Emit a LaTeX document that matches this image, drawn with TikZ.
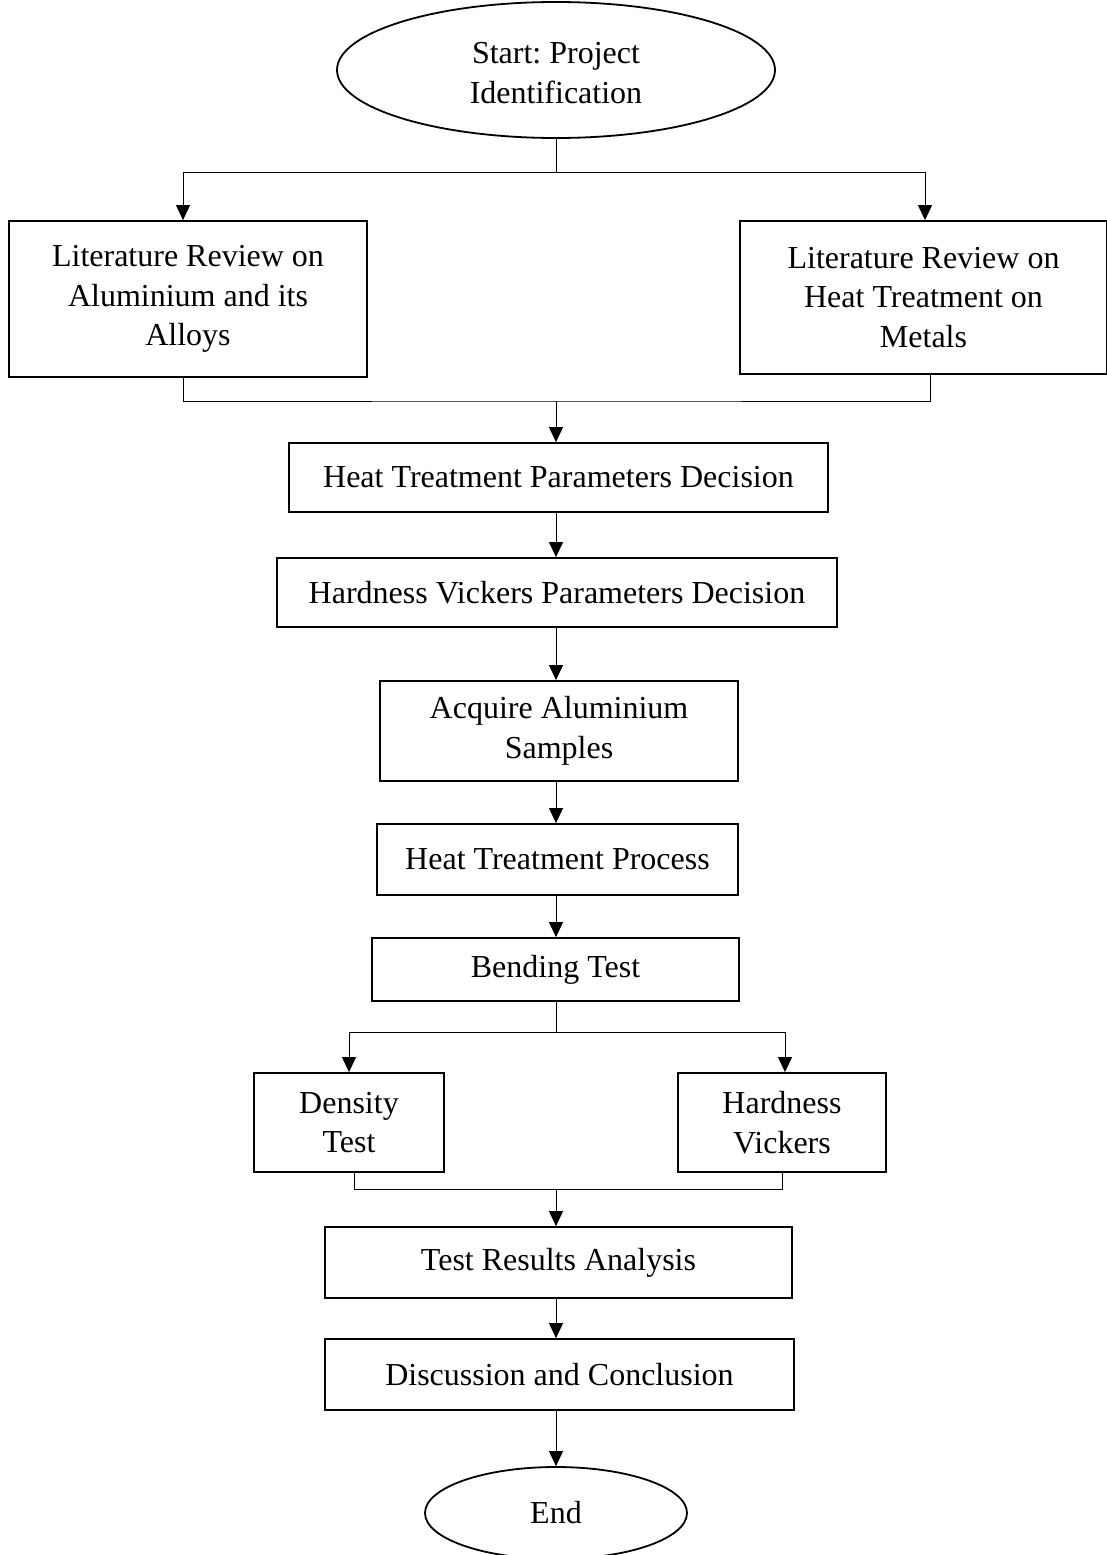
\documentclass[tikz,border=0pt]{standalone}
\usepackage{fontspec}
\setmainfont{Liberation Serif}
\usetikzlibrary{shapes.geometric,arrows.meta}
\frenchspacing
\begin{document}
\begin{tikzpicture}[x=1pt,y=-1pt,
  txt/.style={font=\fontsize{32}{39.5}\selectfont,align=center,inner sep=0pt},
  box/.style={txt,draw,line width=1.8pt,rectangle},
  oval/.style={txt,draw,line width=1.8pt,ellipse},
  conn/.style={line width=1pt},
  arr/.style={conn,-{Triangle[width=14pt,length=15pt]}}]
\useasboundingbox (0,0) rectangle (1106,1555);
\coordinate (col) at (556,0);

\node[oval,minimum width=438pt,minimum height=136pt] (start) at (556,70) {\strut Start: Project\\Identification};
\node[box,minimum width=358pt,minimum height=156pt] (lit1) at (188,299) {Literature Review on\\Aluminium and its\\Alloys};
\node[box,minimum width=367pt,minimum height=153pt] (lit2) at (923.5,297.5) {Literature Review on\\Heat Treatment on\\Metals};
\node[box,minimum width=539pt,minimum height=69pt] (htpd) at (558.5,477.5) {Heat Treatment Parameters Decision};
\node[box,minimum width=560pt,minimum height=69pt] (hvpd) at (557,592.5) {Hardness Vickers Parameters Decision};
\node[box,minimum width=358pt,minimum height=100pt] (acq) at (559,731) {Acquire Aluminium\\Samples};
\node[box,minimum width=361pt,minimum height=71pt] (htp) at (557.5,859.5) {Heat Treatment Process};
\node[box,minimum width=367pt,minimum height=63pt] (bend) at (555.5,969.5) {Bending Test};
\node[box,minimum width=190pt,minimum height=99pt] (dens) at (349,1122.5) {Density\\Test};
\node[box,minimum width=208pt,minimum height=99pt] (hard) at (782,1122.5) {Hardness\\Vickers};
\node[box,minimum width=467pt,minimum height=71pt] (tra) at (558.5,1262.5) {Test Results Analysis};
\node[box,minimum width=469pt,minimum height=71pt] (dc) at (559.5,1374.5) {Discussion and Conclusion};
\node[oval,minimum width=262pt,minimum height=92pt] (end) at (556,1513) {End};

\coordinate (s1) at (556,172);
\draw[conn] (start.south) -- (s1);
\draw[arr] (s1) -| ([xshift=-5pt]lit1.north);
\draw[arr] (s1) -| ([xshift=1.5pt]lit2.north);
\coordinate (m1) at (556,401);
\draw[conn] ([xshift=-5pt]lit1.south) |- (m1) -| ([xshift=6.5pt]lit2.south);
\draw[arr] (m1) -- (htpd.north -| col);
\draw[arr] (htpd.south -| col) -- (hvpd.north -| col);
\draw[arr] (hvpd.south -| col) -- (acq.north -| col);
\draw[arr] (acq.south -| col) -- (htp.north -| col);
\draw[arr] (htp.south -| col) -- (bend.north -| col);
\coordinate (s2) at (556,1032);
\draw[conn] (bend.south -| col) -- (s2);
\draw[arr] (s2) -| (dens.north);
\draw[arr] (s2) -| ([xshift=3pt]hard.north);
\coordinate (m2) at (556,1189);
\draw[conn] ([xshift=5pt]dens.south) |- (m2) -| (hard.south);
\draw[arr] (m2) -- (tra.north -| col);
\draw[arr] (tra.south -| col) -- (dc.north -| col);
\draw[arr] (dc.south -| col) -- (end.north);
\end{tikzpicture}
\end{document}
